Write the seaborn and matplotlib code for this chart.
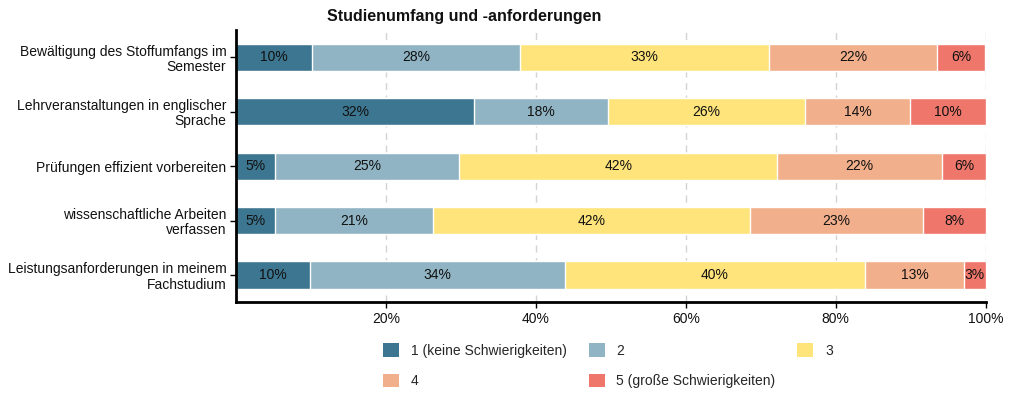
import textwrap
import numpy as np
import pandas as pd
import matplotlib
matplotlib.use("Agg")
import matplotlib.pyplot as plt
import seaborn as sns
from matplotlib.patches import Patch

# items (top to bottom)
items = [
    "Bewältigung des Stoffumfangs im Semester",
    "Lehrveranstaltungen in englischer Sprache",
    "Prüfungen effizient vorbereiten",
    "wissenschaftliche Arbeiten verfassen",
    "Leistungsanforderungen in meinem Fachstudium",
]
# answer levels
levels = ["1 (keine Schwierigkeiten)", "2", "3", "4", "5 (große Schwierigkeiten)"]
colors = ["#3d7690", "#90b4c3", "#fee47b", "#f2af8b", "#ef766b"]

# shares in percent, one list per level
lvl1 = [10.1, 31.8, 5.2, 5.2, 9.8]
lvl2 = [27.8, 17.8, 24.6, 21.1, 34.1]
lvl3 = [33.2, 26.3, 42.4, 42.2, 40.0]
lvl4 = [22.4, 14.0, 22.0, 23.1, 13.2]
lvl5 = [6.4, 10.1, 5.8, 8.4, 2.9]

df = pd.DataFrame({"item": items, levels[0]: lvl1, levels[1]: lvl2,
                   levels[2]: lvl3, levels[3]: lvl4, levels[4]: lvl5})
cum = df[levels].cumsum(axis=1)

sns.set_theme(style="white")
plt.rcParams["font.family"] = ["Liberation Sans", "DejaVu Sans"]

fig = plt.figure(figsize=(10.31, 4.19), dpi=100)
ax = fig.add_axes([0.229, 0.279, 0.727, 0.649])

# stacked bars: draw the cumulative totals from the right end backwards
for lev, col in reversed(list(zip(levels, colors))):
    sns.barplot(x=cum[lev], y=df["item"], orient="h", color=col,
                width=0.5, saturation=1, ax=ax, zorder=2)

for i in range(len(items)):
    for lev in levels:
        v = df.loc[i, lev]
        ax.text(cum.loc[i, lev] - v / 2, i, f"{v:.0f}%", ha="center",
                va="center", fontsize=10, color="#111111", zorder=3)

ax.set_xlim(0, 100)
ax.set_ylim(4.5, -0.5)
ax.set_xticks([20, 40, 60, 80, 100])
ax.set_xticklabels([f"{t}%" for t in [20, 40, 60, 80, 100]])
ax.set_yticks(range(len(items)))
ax.set_yticklabels([textwrap.fill(t, 33) for t in items], linespacing=1.1)
ax.set_xlabel("")
ax.set_ylabel("")
ax.xaxis.grid(True, linestyle=(0, (5, 4)), color="#d3d3d3", linewidth=1, zorder=0)
ax.set_axisbelow(True)
ax.tick_params(axis="both", which="major", length=4, width=1, color="black",
               labelsize=10, labelcolor="#111111", pad=3, bottom=True, left=True)
for s in ["top", "right"]:
    ax.spines[s].set_visible(False)
for s in ["left", "bottom"]:
    ax.spines[s].set_color("black")
    ax.spines[s].set_linewidth(2)

fig.text(0.4505, 0.961, "Studienumfang und -anforderungen", ha="center",
         va="center", fontsize=11.5, fontweight="bold", color="#111111")

handles = [Patch(facecolor=c, edgecolor="none", label=l) for l, c in zip(levels, colors)]
order = [0, 3, 1, 4, 2]
fig.legend([handles[k] for k in order], [levels[k] for k in order],
           loc="upper left", bbox_to_anchor=(383 / 1031, 1 - 343 / 419),
           ncol=3, frameon=False, fontsize=10, handlelength=1.15,
           handleheight=1.15, handletextpad=0.85, labelspacing=1.15,
           columnspacing=1.58, borderpad=0, borderaxespad=0)

fig.savefig("out.png", dpi=100)
